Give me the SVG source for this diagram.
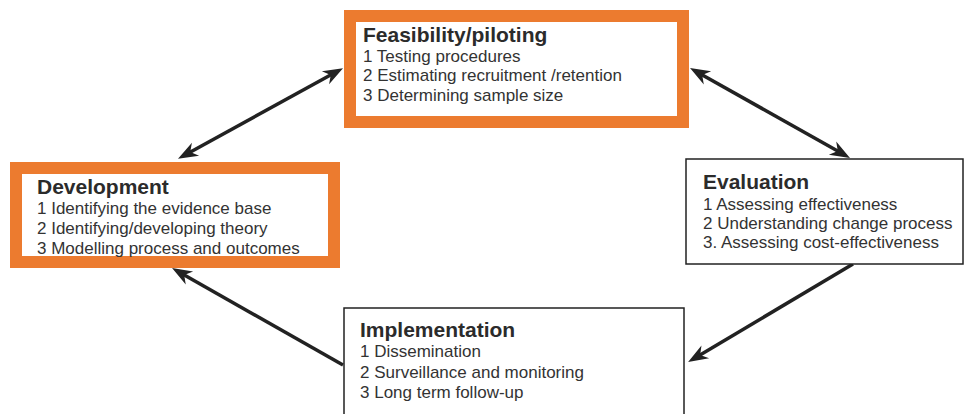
<svg xmlns="http://www.w3.org/2000/svg" width="966" height="414" viewBox="0 0 966 414">
  <style>
    .title { font-family: "Liberation Sans", Arial, sans-serif; font-weight: bold; font-size: 21px; fill: #2b2b2b; }
    .item { font-family: "Liberation Sans", Arial, sans-serif; font-size: 17px; fill: #333333; }
    .hi { fill: #ffffff; stroke: #ec7b2f; stroke-width: 12; }
    .plain { fill: #ffffff; stroke: #222222; stroke-width: 1.5; }
    .conn { stroke: #222222; stroke-width: 3.5; fill: none; }
  </style>
  <defs>
    <!-- barbed arrowhead; tip sits 8px beyond the line end -->
    <marker id="head" viewBox="-13 -9 23 18" markerWidth="23" markerHeight="18" refX="0" refY="0" orient="auto-start-reverse" markerUnits="userSpaceOnUse">
      <path d="M-12,-7.5 L8,0 L-12,7.5 L-6,0 z" fill="#222222"/>
    </marker>
  </defs>
  <rect x="0" y="0" width="966" height="414" fill="#ffffff"/>

  <g id="connectors">
    <line class="conn" x1="185" y1="155" x2="336" y2="72" marker-start="url(#head)" marker-end="url(#head)"/>
    <line class="conn" x1="697" y1="72" x2="843" y2="154" marker-start="url(#head)" marker-end="url(#head)"/>
    <line class="conn" x1="853" y1="264" x2="695" y2="358" marker-end="url(#head)"/>
    <line class="conn" x1="343" y1="365" x2="179" y2="272" marker-end="url(#head)"/>
  </g>

  <g id="feasibility">
    <rect class="hi" x="350" y="16" width="333" height="106"/>
    <text class="title" x="363" y="42">Feasibility/piloting</text>
    <text class="item" x="363" y="62">1 Testing procedures</text>
    <text class="item" x="363" y="81">2 Estimating recruitment /retention</text>
    <text class="item" x="363" y="101">3 Determining sample size</text>
  </g>

  <g id="development">
    <rect class="hi" x="16" y="168" width="318" height="94"/>
    <text class="title" x="37" y="194">Development</text>
    <text class="item" x="37" y="214">1 Identifying the evidence base</text>
    <text class="item" x="37" y="234">2 Identifying/developing theory</text>
    <text class="item" x="37" y="254">3 Modelling process and outcomes</text>
  </g>

  <g id="evaluation">
    <rect class="plain" x="686" y="159" width="277" height="105"/>
    <text class="title" x="703" y="189">Evaluation</text>
    <text class="item" x="703" y="210">1 Assessing effectiveness</text>
    <text class="item" x="703" y="229">2 Understanding change process</text>
    <text class="item" x="703" y="248">3. Assessing cost-effectiveness</text>
  </g>

  <g id="implementation">
    <rect class="plain" x="344" y="308" width="340" height="120"/>
    <text class="title" x="360" y="337">Implementation</text>
    <text class="item" x="360" y="357">1 Dissemination</text>
    <text class="item" x="360" y="378">2 Surveillance and monitoring</text>
    <text class="item" x="360" y="398">3 Long term follow-up</text>
  </g>
</svg>
